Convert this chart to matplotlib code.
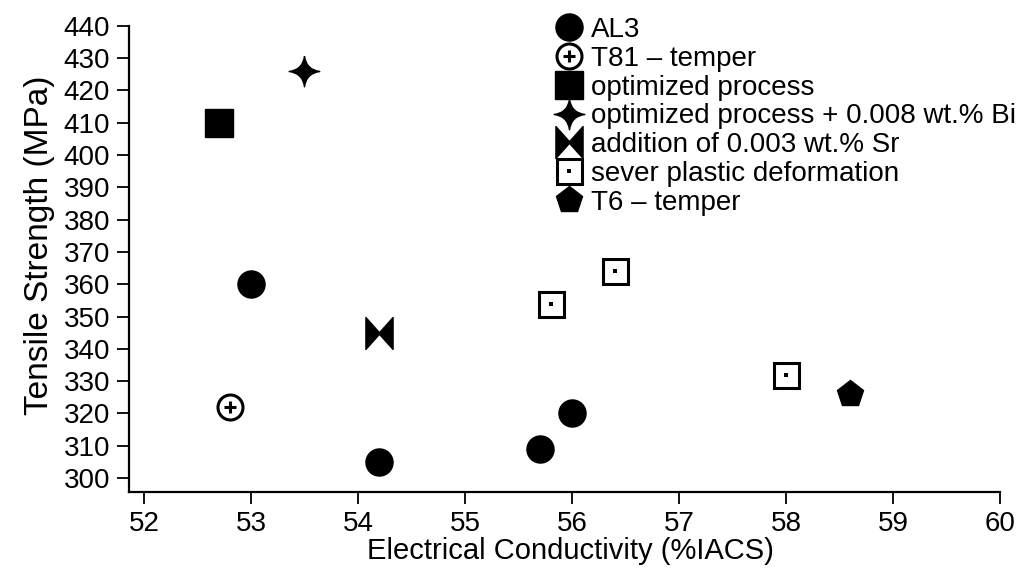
import matplotlib
matplotlib.use("Agg")
import matplotlib.pyplot as plt
from matplotlib.path import Path
from matplotlib.legend_handler import HandlerTuple
import numpy as np

plt.rcParams['font.family'] = ['Liberation Sans', 'DejaVu Sans']

# ---- data ----
al3_x = [53.0, 54.2, 55.7, 56.0]
al3_y = [360, 305, 309, 320]
t81_x = [52.8]
t81_y = [322]
opt_x = [52.7]
opt_y = [410]
bi_x = [53.5]
bi_y = [426]
sr_x = [54.2]
sr_y = [345]
spd_x = [55.8, 56.4, 58.0]
spd_y = [354, 364, 332]
t6_x = [58.6]
t6_y = [326]

labels = ["AL3", "T81 \u2013 temper", "optimized process",
          "optimized process + 0.008 wt.% Bi", "addition of 0.003 wt.% Sr",
          "sever plastic deformation", "T6 \u2013 temper"]
xticks = [52, 53, 54, 55, 56, 57, 58, 59, 60]
yticks = list(range(300, 441, 10))

# ---- custom markers ----
star_verts = [(0, 1), (0.12, 0.12), (1, 0), (0.12, -0.12), (0, -1),
              (-0.12, -0.12), (-1, 0), (-0.12, 0.12), (0, 1)]
star_codes = [Path.MOVETO, Path.CURVE3, Path.CURVE3, Path.CURVE3, Path.CURVE3,
              Path.CURVE3, Path.CURVE3, Path.CURVE3, Path.CURVE3]
star_marker = Path(star_verts, star_codes)

bow_verts = [(-0.85, 1), (0, 0.05), (0.85, 1), (0.85, -1), (0, -0.05), (-0.85, -1), (-0.85, 1)]
bow_marker = Path(bow_verts, [Path.MOVETO] + [Path.LINETO] * 5 + [Path.CLOSEPOLY])

fig = plt.figure(figsize=(10.32, 5.74), dpi=100)
ax = fig.add_axes([129 / 1032, 1 - 492 / 574, (1000 - 129) / 1032, (492 - 25.7) / 574])

ms = 19.5
h_al3, = ax.plot(al3_x, al3_y, 'o', color='black', ms=ms, ls='none')
h_t81a, = ax.plot(t81_x, t81_y, 'o', mfc='white', mec='black', mew=2.2, ms=18, ls='none')
h_t81b, = ax.plot(t81_x, t81_y, '+', color='black', mew=2.2, ms=8.5, ls='none')
h_opt, = ax.plot(opt_x, opt_y, 's', color='black', ms=20.5, ls='none')
h_bi, = ax.plot(bi_x, bi_y, marker=star_marker, color='black', ms=22, ls='none')
h_sr, = ax.plot(sr_x, sr_y, marker=bow_marker, color='black', ms=23, ls='none')
h_spda, = ax.plot(spd_x, spd_y, 's', mfc='white', mec='black', mew=2.2, ms=18, ls='none')
h_spdb, = ax.plot(spd_x, spd_y, 's', color='black', ms=2.2, mew=0, ls='none')
h_t6, = ax.plot(t6_x, t6_y, 'p', color='black', ms=20, ls='none')

ax.set_xlim(51.86, 60)
ax.set_ylim(295.7, 440)
ax.set_xticks(xticks)
ax.set_yticks(yticks)
ax.tick_params(axis='both', direction='out', length=8.5, width=1.3, labelsize=20, pad=5)
for s in ['top', 'right']:
    ax.spines[s].set_visible(False)
for s in ['left', 'bottom']:
    ax.spines[s].set_linewidth(1.6)

ax.set_xlabel("Electrical Conductivity (%IACS)", fontsize=21, labelpad=0)
ax.set_ylabel("Tensile Strength (MPa)", fontsize=24, labelpad=6)
ax.yaxis.label.set_y(0.53)
ax.xaxis.label.set_x(0.507)

handles = [h_al3, (h_t81a, h_t81b), h_opt, h_bi, h_sr, (h_spda, h_spdb), h_t6]
leg = ax.legend(handles, labels, loc='upper left', bbox_to_anchor=(555 / 1032, 1 - 17 / 574),
                bbox_transform=fig.transFigure, frameon=False, fontsize=20,
                handlelength=1.0, handletextpad=0.28, labelspacing=0.1, borderpad=0,
                borderaxespad=0, handler_map={tuple: HandlerTuple(ndivide=1, pad=0)})

fig.savefig("out.png", dpi=100)
